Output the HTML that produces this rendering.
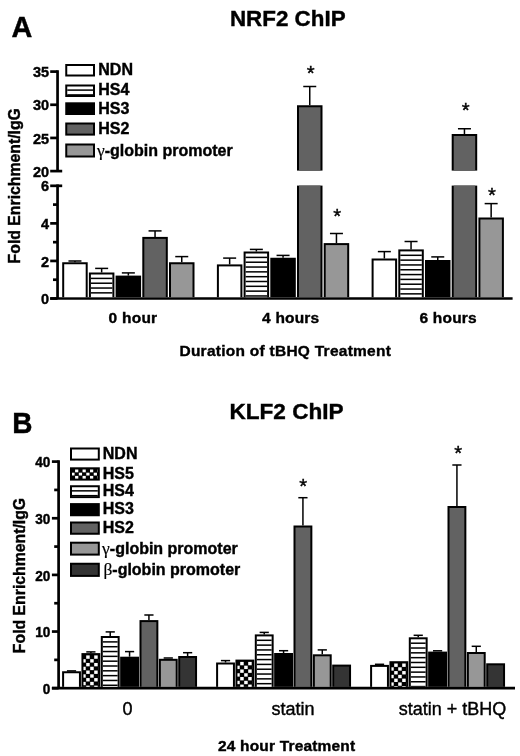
<!DOCTYPE html><html><head><meta charset="utf-8"><style>html,body{margin:0;padding:0;background:#fff;width:520px;height:756px;overflow:hidden}svg{display:block;will-change:transform}line{stroke:#000}text{font-family:"Liberation Sans", sans-serif;fill:#000;stroke:#000;stroke-width:0.4px}</style></head><body>
<svg width="520" height="756" viewBox="0 0 520 756">
<rect width="520" height="756" fill="#fff"/>
<text transform="translate(11.60,36.90) scale(1,1.03)" font-size="28.8" font-weight="bold" text-anchor="start" >A</text>
<text x="287.75" y="25.6" font-size="22.4" font-weight="bold" text-anchor="middle" >NRF2 ChIP</text>
<line x1="57.55" y1="184.47" x2="57.55" y2="298.5" stroke-width="2.7"/>
<line x1="50.2" y1="185.82" x2="62.2" y2="185.82" stroke-width="2.7"/>
<line x1="50.2" y1="298.5" x2="57.55" y2="298.5" stroke-width="2.7"/>
<line x1="50.2" y1="260.94" x2="57.55" y2="260.94" stroke-width="2.7"/>
<line x1="50.2" y1="223.38" x2="57.55" y2="223.38" stroke-width="2.7"/>
<line x1="53" y1="279.72" x2="57.55" y2="279.72" stroke-width="2.7"/>
<line x1="53" y1="242.16" x2="57.55" y2="242.16" stroke-width="2.7"/>
<line x1="53" y1="204.6" x2="57.55" y2="204.6" stroke-width="2.7"/>
<line x1="57.55" y1="70.25" x2="57.55" y2="171.1" stroke-width="2.7"/>
<line x1="50.2" y1="171.1" x2="62.2" y2="171.1" stroke-width="2.7"/>
<line x1="50.2" y1="137.94" x2="57.55" y2="137.94" stroke-width="2.7"/>
<line x1="50.2" y1="104.77" x2="57.55" y2="104.77" stroke-width="2.7"/>
<line x1="50.2" y1="71.6" x2="57.55" y2="71.6" stroke-width="2.7"/>
<line x1="50.2" y1="298.5" x2="512.6" y2="298.5" stroke-width="2.7"/>
<text transform="translate(49.10,304.10) scale(1,1.03)" font-size="14.5" font-weight="bold" text-anchor="end" >0</text>
<text transform="translate(49.10,266.54) scale(1,1.03)" font-size="14.5" font-weight="bold" text-anchor="end" >2</text>
<text transform="translate(49.10,228.98) scale(1,1.03)" font-size="14.5" font-weight="bold" text-anchor="end" >4</text>
<text transform="translate(49.10,191.42) scale(1,1.03)" font-size="14.5" font-weight="bold" text-anchor="end" >6</text>
<text transform="translate(49.10,176.70) scale(1,1.03)" font-size="14.5" font-weight="bold" text-anchor="end" >20</text>
<text transform="translate(49.10,143.53) scale(1,1.03)" font-size="14.5" font-weight="bold" text-anchor="end" >25</text>
<text transform="translate(49.10,110.37) scale(1,1.03)" font-size="14.5" font-weight="bold" text-anchor="end" >30</text>
<text transform="translate(49.10,77.20) scale(1,1.03)" font-size="14.5" font-weight="bold" text-anchor="end" >35</text>
<line x1="74.95" y1="262.25" x2="74.95" y2="261" stroke-width="1.5"/>
<line x1="68.45" y1="261" x2="81.45" y2="261" stroke-width="1.5"/>
<rect x="62.2" y="262.25" width="25.5" height="34.9"/>
<rect x="64.2" y="264.25" width="21.5" height="32.9" fill="#fff"/>
<line x1="101.65" y1="272.5" x2="101.65" y2="268.4" stroke-width="1.5"/>
<line x1="95.15" y1="268.4" x2="108.15" y2="268.4" stroke-width="1.5"/>
<rect x="88.9" y="272.5" width="25.5" height="24.65"/>
<rect x="90.9" y="274.5" width="21.5" height="22.65" fill="#fff"/>
<rect x="90.9" y="277.65" width="21.5" height="1.5"/>
<rect x="90.9" y="282.47" width="21.5" height="1.5"/>
<rect x="90.9" y="287.29" width="21.5" height="1.5"/>
<rect x="90.9" y="292.11" width="21.5" height="1.5"/>
<line x1="128.35" y1="275.6" x2="128.35" y2="272.9" stroke-width="1.5"/>
<line x1="121.85" y1="272.9" x2="134.85" y2="272.9" stroke-width="1.5"/>
<rect x="115.6" y="275.6" width="25.5" height="21.55"/>
<line x1="155.05" y1="236.9" x2="155.05" y2="230.9" stroke-width="1.5"/>
<line x1="148.55" y1="230.9" x2="161.55" y2="230.9" stroke-width="1.5"/>
<rect x="142.3" y="236.9" width="25.5" height="60.25"/>
<rect x="144.3" y="238.9" width="21.5" height="58.25" fill="#626262"/>
<line x1="181.75" y1="262.25" x2="181.75" y2="256.6" stroke-width="1.5"/>
<line x1="175.25" y1="256.6" x2="188.25" y2="256.6" stroke-width="1.5"/>
<rect x="169" y="262.25" width="25.5" height="34.9"/>
<rect x="171" y="264.25" width="21.5" height="32.9" fill="#979797"/>
<line x1="229.65" y1="264.4" x2="229.65" y2="258.1" stroke-width="1.5"/>
<line x1="223.15" y1="258.1" x2="236.15" y2="258.1" stroke-width="1.5"/>
<rect x="216.9" y="264.4" width="25.5" height="32.75"/>
<rect x="218.9" y="266.4" width="21.5" height="30.75" fill="#fff"/>
<line x1="256.35" y1="251.5" x2="256.35" y2="249.4" stroke-width="1.5"/>
<line x1="249.85" y1="249.4" x2="262.85" y2="249.4" stroke-width="1.5"/>
<rect x="243.6" y="251.5" width="25.5" height="45.65"/>
<rect x="245.6" y="253.5" width="21.5" height="43.65" fill="#fff"/>
<rect x="245.6" y="256.65" width="21.5" height="1.5"/>
<rect x="245.6" y="261.47" width="21.5" height="1.5"/>
<rect x="245.6" y="266.29" width="21.5" height="1.5"/>
<rect x="245.6" y="271.11" width="21.5" height="1.5"/>
<rect x="245.6" y="275.93" width="21.5" height="1.5"/>
<rect x="245.6" y="280.75" width="21.5" height="1.5"/>
<rect x="245.6" y="285.57" width="21.5" height="1.5"/>
<rect x="245.6" y="290.39" width="21.5" height="1.5"/>
<rect x="245.6" y="295.21" width="21.5" height="1.5"/>
<line x1="283.05" y1="257.75" x2="283.05" y2="255.4" stroke-width="1.5"/>
<line x1="276.55" y1="255.4" x2="289.55" y2="255.4" stroke-width="1.5"/>
<rect x="270.3" y="257.75" width="25.5" height="39.4"/>
<line x1="309.75" y1="105.25" x2="309.75" y2="86.5" stroke-width="1.5"/>
<line x1="303.25" y1="86.5" x2="316.25" y2="86.5" stroke-width="1.5"/>
<rect x="297" y="105.25" width="25.5" height="65.35"/>
<rect x="299" y="107.25" width="21.5" height="63.35" fill="#626262"/>
<rect x="297" y="185.6" width="25.5" height="111.55"/>
<rect x="299" y="185.6" width="21.5" height="111.55" fill="#626262"/>
<line x1="336.45" y1="243.1" x2="336.45" y2="233.5" stroke-width="1.5"/>
<line x1="329.95" y1="233.5" x2="342.95" y2="233.5" stroke-width="1.5"/>
<rect x="323.7" y="243.1" width="25.5" height="54.05"/>
<rect x="325.7" y="245.1" width="21.5" height="52.05" fill="#979797"/>
<line x1="384.35" y1="258.5" x2="384.35" y2="251.6" stroke-width="1.5"/>
<line x1="377.85" y1="251.6" x2="390.85" y2="251.6" stroke-width="1.5"/>
<rect x="371.6" y="258.5" width="25.5" height="38.65"/>
<rect x="373.6" y="260.5" width="21.5" height="36.65" fill="#fff"/>
<line x1="411.05" y1="249.4" x2="411.05" y2="241.5" stroke-width="1.5"/>
<line x1="404.55" y1="241.5" x2="417.55" y2="241.5" stroke-width="1.5"/>
<rect x="398.3" y="249.4" width="25.5" height="47.75"/>
<rect x="400.3" y="251.4" width="21.5" height="45.75" fill="#fff"/>
<rect x="400.3" y="254.55" width="21.5" height="1.5"/>
<rect x="400.3" y="259.37" width="21.5" height="1.5"/>
<rect x="400.3" y="264.19" width="21.5" height="1.5"/>
<rect x="400.3" y="269.01" width="21.5" height="1.5"/>
<rect x="400.3" y="273.83" width="21.5" height="1.5"/>
<rect x="400.3" y="278.65" width="21.5" height="1.5"/>
<rect x="400.3" y="283.47" width="21.5" height="1.5"/>
<rect x="400.3" y="288.29" width="21.5" height="1.5"/>
<rect x="400.3" y="293.11" width="21.5" height="1.5"/>
<line x1="437.75" y1="260" x2="437.75" y2="256.9" stroke-width="1.5"/>
<line x1="431.25" y1="256.9" x2="444.25" y2="256.9" stroke-width="1.5"/>
<rect x="425" y="260" width="25.5" height="37.15"/>
<line x1="464.45" y1="134" x2="464.45" y2="128.75" stroke-width="1.5"/>
<line x1="457.95" y1="128.75" x2="470.95" y2="128.75" stroke-width="1.5"/>
<rect x="451.7" y="134" width="25.5" height="36.6"/>
<rect x="453.7" y="136" width="21.5" height="34.6" fill="#626262"/>
<rect x="451.7" y="185.6" width="25.5" height="111.55"/>
<rect x="453.7" y="185.6" width="21.5" height="111.55" fill="#626262"/>
<line x1="491.15" y1="217.5" x2="491.15" y2="203.6" stroke-width="1.5"/>
<line x1="484.65" y1="203.6" x2="497.65" y2="203.6" stroke-width="1.5"/>
<rect x="478.4" y="217.5" width="25.5" height="79.65"/>
<rect x="480.4" y="219.5" width="21.5" height="77.65" fill="#979797"/>
<text transform="translate(132.95,323.20) scale(1,0.97)" font-size="15.5" font-weight="bold" text-anchor="middle" letter-spacing="0.25">0 hour</text>
<text transform="translate(290.70,323.20) scale(1,0.97)" font-size="15.5" font-weight="bold" text-anchor="middle" letter-spacing="0.18">4 hours</text>
<text transform="translate(448.20,323.20) scale(1,0.97)" font-size="15.5" font-weight="bold" text-anchor="middle" letter-spacing="0.2">6 hours</text>
<text transform="translate(285.30,356.00) scale(1,0.97)" font-size="15.5" font-weight="bold" text-anchor="middle" letter-spacing="0.27">Duration of tBHQ Treatment</text>
<text x="0" y="0" font-size="15.8" font-weight="bold" text-anchor="middle" transform="translate(20.2,185.75) rotate(-90) scale(1,1.08)">Fold Enrichment/IgG</text>
<rect x="65.25" y="64" width="29.75" height="12.5"/>
<rect x="67.25" y="66" width="25.75" height="8.5" fill="#fff"/>
<text x="98.3" y="75.0" font-size="16" font-weight="bold" text-anchor="start" >NDN</text>
<rect x="65.25" y="84.5" width="29.75" height="12.5"/>
<rect x="67.25" y="86.5" width="25.75" height="8.5" fill="#fff"/>
<rect x="67.25" y="89.35" width="25.75" height="1.5"/>
<rect x="67.25" y="94.17" width="25.75" height="0.83"/>
<text x="98.3" y="95.25" font-size="16" font-weight="bold" text-anchor="start" >HS4</text>
<rect x="65.25" y="102.3" width="29.75" height="12.7"/>
<text x="98.3" y="113.5" font-size="16" font-weight="bold" text-anchor="start" >HS3</text>
<rect x="65.25" y="122.5" width="29.75" height="13.1"/>
<rect x="67.25" y="124.5" width="25.75" height="9.1" fill="#626262"/>
<text x="98.3" y="133.5" font-size="16" font-weight="bold" text-anchor="start" >HS2</text>
<rect x="65.25" y="143.5" width="29.75" height="14"/>
<rect x="67.25" y="145.5" width="25.75" height="10" fill="#979797"/>
<text x="97" y="156.0" font-size="16" font-weight="bold"><tspan font-weight="normal" font-family="Liberation Serif" font-size="17.5" style="stroke-width:0.2px">&#947;</tspan>-globin promoter</text>
<text x="310.82" y="80.17" font-size="20.3" text-anchor="middle" stroke="#000" stroke-width="0.35">*</text>
<text x="337.18" y="223.07" font-size="20.3" text-anchor="middle" stroke="#000" stroke-width="0.35">*</text>
<text x="465.65" y="116.76" font-size="20.3" text-anchor="middle" stroke="#000" stroke-width="0.35">*</text>
<text x="491.90" y="202.20" font-size="20.3" text-anchor="middle" stroke="#000" stroke-width="0.35">*</text>
<text transform="translate(12.30,432.90) scale(1,1.04)" font-size="28.0" font-weight="bold" text-anchor="start" >B</text>
<text transform="translate(286.50,419.30) scale(1,0.96)" font-size="22.6" font-weight="bold" text-anchor="middle" >KLF2 ChIP</text>
<line x1="58.6" y1="460.25" x2="58.6" y2="688.2" stroke-width="2.7"/>
<line x1="51.9" y1="688.2" x2="58.6" y2="688.2" stroke-width="2.7"/>
<line x1="51.9" y1="631.55" x2="58.6" y2="631.55" stroke-width="2.7"/>
<line x1="51.9" y1="574.9" x2="58.6" y2="574.9" stroke-width="2.7"/>
<line x1="51.9" y1="518.25" x2="58.6" y2="518.25" stroke-width="2.7"/>
<line x1="51.9" y1="461.6" x2="58.6" y2="461.6" stroke-width="2.7"/>
<line x1="54.2" y1="659.88" x2="58.6" y2="659.88" stroke-width="2.7"/>
<line x1="54.2" y1="603.23" x2="58.6" y2="603.23" stroke-width="2.7"/>
<line x1="54.2" y1="546.58" x2="58.6" y2="546.58" stroke-width="2.7"/>
<line x1="54.2" y1="489.93" x2="58.6" y2="489.93" stroke-width="2.7"/>
<line x1="51.9" y1="688.2" x2="515" y2="688.2" stroke-width="2.7"/>
<text transform="translate(50.30,693.90) scale(1,1.1)" font-size="13.6" font-weight="bold" text-anchor="end" >0</text>
<text transform="translate(50.30,637.25) scale(1,1.1)" font-size="13.6" font-weight="bold" text-anchor="end" >10</text>
<text transform="translate(50.30,580.60) scale(1,1.1)" font-size="13.6" font-weight="bold" text-anchor="end" >20</text>
<text transform="translate(50.30,523.95) scale(1,1.1)" font-size="13.6" font-weight="bold" text-anchor="end" >30</text>
<text transform="translate(50.30,467.30) scale(1,1.1)" font-size="13.6" font-weight="bold" text-anchor="end" >40</text>
<line x1="66.93" y1="670.9" x2="76.12" y2="670.9" stroke-width="1.5"/>
<rect x="62.1" y="671.25" width="18.85" height="15.6"/>
<rect x="64.1" y="673.25" width="14.85" height="13.6" fill="#fff"/>
<line x1="90.88" y1="653.1" x2="90.88" y2="651.9" stroke-width="1.5"/>
<line x1="86.28" y1="651.9" x2="95.47" y2="651.9" stroke-width="1.5"/>
<rect x="81.45" y="653.1" width="18.85" height="33.75"/>
<rect x="86.2" y="655.4" width="3.5" height="3.38" fill="#fff"/>
<rect x="94.2" y="655.4" width="3.5" height="3.38" fill="#fff"/>
<rect x="83.45" y="659.18" width="2.25" height="3.38" fill="#fff"/>
<rect x="90.2" y="659.18" width="3.5" height="3.38" fill="#fff"/>
<rect x="98.2" y="659.18" width="0.1" height="3.38" fill="#fff"/>
<rect x="86.2" y="662.96" width="3.5" height="3.38" fill="#fff"/>
<rect x="94.2" y="662.96" width="3.5" height="3.38" fill="#fff"/>
<rect x="83.45" y="666.74" width="2.25" height="3.38" fill="#fff"/>
<rect x="90.2" y="666.74" width="3.5" height="3.38" fill="#fff"/>
<rect x="98.2" y="666.74" width="0.1" height="3.38" fill="#fff"/>
<rect x="86.2" y="670.52" width="3.5" height="3.38" fill="#fff"/>
<rect x="94.2" y="670.52" width="3.5" height="3.38" fill="#fff"/>
<rect x="83.45" y="674.3" width="2.25" height="3.38" fill="#fff"/>
<rect x="90.2" y="674.3" width="3.5" height="3.38" fill="#fff"/>
<rect x="98.2" y="674.3" width="0.1" height="3.38" fill="#fff"/>
<rect x="86.2" y="678.08" width="3.5" height="3.38" fill="#fff"/>
<rect x="94.2" y="678.08" width="3.5" height="3.38" fill="#fff"/>
<rect x="83.45" y="681.86" width="2.25" height="3.38" fill="#fff"/>
<rect x="90.2" y="681.86" width="3.5" height="3.38" fill="#fff"/>
<rect x="98.2" y="681.86" width="0.1" height="3.38" fill="#fff"/>
<rect x="86.2" y="685.64" width="3.5" height="1.21" fill="#fff"/>
<rect x="94.2" y="685.64" width="3.5" height="1.21" fill="#fff"/>
<line x1="110.23" y1="636" x2="110.23" y2="631.9" stroke-width="1.5"/>
<line x1="105.63" y1="631.9" x2="114.83" y2="631.9" stroke-width="1.5"/>
<rect x="100.8" y="636" width="18.85" height="50.85"/>
<rect x="102.8" y="638" width="14.85" height="48.85" fill="#fff"/>
<rect x="102.8" y="641.15" width="14.85" height="1.5"/>
<rect x="102.8" y="645.97" width="14.85" height="1.5"/>
<rect x="102.8" y="650.79" width="14.85" height="1.5"/>
<rect x="102.8" y="655.61" width="14.85" height="1.5"/>
<rect x="102.8" y="660.43" width="14.85" height="1.5"/>
<rect x="102.8" y="665.25" width="14.85" height="1.5"/>
<rect x="102.8" y="670.07" width="14.85" height="1.5"/>
<rect x="102.8" y="674.89" width="14.85" height="1.5"/>
<rect x="102.8" y="679.71" width="14.85" height="1.5"/>
<rect x="102.8" y="684.53" width="14.85" height="1.5"/>
<line x1="129.57" y1="656.7" x2="129.57" y2="651.6" stroke-width="1.5"/>
<line x1="124.97" y1="651.6" x2="134.17" y2="651.6" stroke-width="1.5"/>
<rect x="120.15" y="656.7" width="18.85" height="30.15"/>
<line x1="148.93" y1="620.1" x2="148.93" y2="615" stroke-width="1.5"/>
<line x1="144.33" y1="615" x2="153.53" y2="615" stroke-width="1.5"/>
<rect x="139.5" y="620.1" width="18.85" height="66.75"/>
<rect x="141.5" y="622.1" width="14.85" height="64.75" fill="#626262"/>
<line x1="163.67" y1="658" x2="172.87" y2="658" stroke-width="1.5"/>
<rect x="158.85" y="658.8" width="18.85" height="28.05"/>
<rect x="160.85" y="660.8" width="14.85" height="26.05" fill="#979797"/>
<line x1="187.62" y1="656" x2="187.62" y2="652.7" stroke-width="1.5"/>
<line x1="183.03" y1="652.7" x2="192.22" y2="652.7" stroke-width="1.5"/>
<rect x="178.2" y="656" width="18.85" height="30.85"/>
<rect x="180.2" y="658" width="14.85" height="28.85" fill="#343434"/>
<line x1="225.52" y1="662.5" x2="225.52" y2="660.6" stroke-width="1.5"/>
<line x1="220.92" y1="660.6" x2="230.12" y2="660.6" stroke-width="1.5"/>
<rect x="216.1" y="662.5" width="18.85" height="24.35"/>
<rect x="218.1" y="664.5" width="14.85" height="22.35" fill="#fff"/>
<rect x="235.45" y="659.6" width="18.85" height="27.25"/>
<rect x="240.2" y="661.9" width="3.5" height="3.38" fill="#fff"/>
<rect x="248.2" y="661.9" width="3.5" height="3.38" fill="#fff"/>
<rect x="237.45" y="665.68" width="2.25" height="3.38" fill="#fff"/>
<rect x="244.2" y="665.68" width="3.5" height="3.38" fill="#fff"/>
<rect x="252.2" y="665.68" width="0.1" height="3.38" fill="#fff"/>
<rect x="240.2" y="669.46" width="3.5" height="3.38" fill="#fff"/>
<rect x="248.2" y="669.46" width="3.5" height="3.38" fill="#fff"/>
<rect x="237.45" y="673.24" width="2.25" height="3.38" fill="#fff"/>
<rect x="244.2" y="673.24" width="3.5" height="3.38" fill="#fff"/>
<rect x="252.2" y="673.24" width="0.1" height="3.38" fill="#fff"/>
<rect x="240.2" y="677.02" width="3.5" height="3.38" fill="#fff"/>
<rect x="248.2" y="677.02" width="3.5" height="3.38" fill="#fff"/>
<rect x="237.45" y="680.8" width="2.25" height="3.38" fill="#fff"/>
<rect x="244.2" y="680.8" width="3.5" height="3.38" fill="#fff"/>
<rect x="252.2" y="680.8" width="0.1" height="3.38" fill="#fff"/>
<rect x="240.2" y="684.58" width="3.5" height="2.27" fill="#fff"/>
<rect x="248.2" y="684.58" width="3.5" height="2.27" fill="#fff"/>
<line x1="264.23" y1="634.4" x2="264.23" y2="632.4" stroke-width="1.5"/>
<line x1="259.62" y1="632.4" x2="268.83" y2="632.4" stroke-width="1.5"/>
<rect x="254.8" y="634.4" width="18.85" height="52.45"/>
<rect x="256.8" y="636.4" width="14.85" height="50.45" fill="#fff"/>
<rect x="256.8" y="639.55" width="14.85" height="1.5"/>
<rect x="256.8" y="644.37" width="14.85" height="1.5"/>
<rect x="256.8" y="649.19" width="14.85" height="1.5"/>
<rect x="256.8" y="654.01" width="14.85" height="1.5"/>
<rect x="256.8" y="658.83" width="14.85" height="1.5"/>
<rect x="256.8" y="663.65" width="14.85" height="1.5"/>
<rect x="256.8" y="668.47" width="14.85" height="1.5"/>
<rect x="256.8" y="673.29" width="14.85" height="1.5"/>
<rect x="256.8" y="678.11" width="14.85" height="1.5"/>
<rect x="256.8" y="682.93" width="14.85" height="1.5"/>
<line x1="283.57" y1="653" x2="283.57" y2="650.7" stroke-width="1.5"/>
<line x1="278.97" y1="650.7" x2="288.18" y2="650.7" stroke-width="1.5"/>
<rect x="274.15" y="653" width="18.85" height="33.85"/>
<line x1="302.93" y1="525.5" x2="302.93" y2="497.7" stroke-width="1.5"/>
<line x1="298.32" y1="497.7" x2="307.53" y2="497.7" stroke-width="1.5"/>
<rect x="293.5" y="525.5" width="18.85" height="161.35"/>
<rect x="295.5" y="527.5" width="14.85" height="159.35" fill="#626262"/>
<line x1="322.28" y1="654.3" x2="322.28" y2="649.9" stroke-width="1.5"/>
<line x1="317.68" y1="649.9" x2="326.88" y2="649.9" stroke-width="1.5"/>
<rect x="312.85" y="654.3" width="18.85" height="32.55"/>
<rect x="314.85" y="656.3" width="14.85" height="30.55" fill="#979797"/>
<rect x="332.2" y="664.6" width="18.85" height="22.25"/>
<rect x="334.2" y="666.6" width="14.85" height="20.25" fill="#343434"/>
<line x1="374.93" y1="664.3" x2="384.13" y2="664.3" stroke-width="1.5"/>
<rect x="370.1" y="664.9" width="18.85" height="21.95"/>
<rect x="372.1" y="666.9" width="14.85" height="19.95" fill="#fff"/>
<rect x="389.45" y="661.2" width="18.85" height="25.65"/>
<rect x="394.2" y="663.5" width="3.5" height="3.38" fill="#fff"/>
<rect x="402.2" y="663.5" width="3.5" height="3.38" fill="#fff"/>
<rect x="391.45" y="667.28" width="2.25" height="3.38" fill="#fff"/>
<rect x="398.2" y="667.28" width="3.5" height="3.38" fill="#fff"/>
<rect x="406.2" y="667.28" width="0.1" height="3.38" fill="#fff"/>
<rect x="394.2" y="671.06" width="3.5" height="3.38" fill="#fff"/>
<rect x="402.2" y="671.06" width="3.5" height="3.38" fill="#fff"/>
<rect x="391.45" y="674.84" width="2.25" height="3.38" fill="#fff"/>
<rect x="398.2" y="674.84" width="3.5" height="3.38" fill="#fff"/>
<rect x="406.2" y="674.84" width="0.1" height="3.38" fill="#fff"/>
<rect x="394.2" y="678.62" width="3.5" height="3.38" fill="#fff"/>
<rect x="402.2" y="678.62" width="3.5" height="3.38" fill="#fff"/>
<rect x="391.45" y="682.4" width="2.25" height="3.38" fill="#fff"/>
<rect x="398.2" y="682.4" width="3.5" height="3.38" fill="#fff"/>
<rect x="406.2" y="682.4" width="0.1" height="3.38" fill="#fff"/>
<rect x="394.2" y="686.18" width="3.5" height="0.67" fill="#fff"/>
<rect x="402.2" y="686.18" width="3.5" height="0.67" fill="#fff"/>
<line x1="418.23" y1="637.3" x2="418.23" y2="635.3" stroke-width="1.5"/>
<line x1="413.62" y1="635.3" x2="422.83" y2="635.3" stroke-width="1.5"/>
<rect x="408.8" y="637.3" width="18.85" height="49.55"/>
<rect x="410.8" y="639.3" width="14.85" height="47.55" fill="#fff"/>
<rect x="410.8" y="642.45" width="14.85" height="1.5"/>
<rect x="410.8" y="647.27" width="14.85" height="1.5"/>
<rect x="410.8" y="652.09" width="14.85" height="1.5"/>
<rect x="410.8" y="656.91" width="14.85" height="1.5"/>
<rect x="410.8" y="661.73" width="14.85" height="1.5"/>
<rect x="410.8" y="666.55" width="14.85" height="1.5"/>
<rect x="410.8" y="671.37" width="14.85" height="1.5"/>
<rect x="410.8" y="676.19" width="14.85" height="1.5"/>
<rect x="410.8" y="681.01" width="14.85" height="1.5"/>
<rect x="410.8" y="685.83" width="14.85" height="1.02"/>
<line x1="432.98" y1="650.8" x2="442.18" y2="650.8" stroke-width="1.5"/>
<rect x="428.15" y="651.6" width="18.85" height="35.25"/>
<line x1="456.93" y1="506" x2="456.93" y2="465" stroke-width="1.5"/>
<line x1="452.32" y1="465" x2="461.53" y2="465" stroke-width="1.5"/>
<rect x="447.5" y="506" width="18.85" height="180.85"/>
<rect x="449.5" y="508" width="14.85" height="178.85" fill="#626262"/>
<line x1="476.28" y1="652" x2="476.28" y2="646.3" stroke-width="1.5"/>
<line x1="471.68" y1="646.3" x2="480.88" y2="646.3" stroke-width="1.5"/>
<rect x="466.85" y="652" width="18.85" height="34.85"/>
<rect x="468.85" y="654" width="14.85" height="32.85" fill="#979797"/>
<rect x="486.2" y="663.3" width="18.85" height="23.55"/>
<rect x="488.2" y="665.3" width="14.85" height="21.55" fill="#343434"/>
<text x="127.5" y="715.3" font-size="18" font-weight="normal" text-anchor="middle" >0</text>
<text x="292.95" y="715.0" font-size="18" font-weight="normal" text-anchor="middle" >statin</text>
<text x="452.5" y="715.0" font-size="18" font-weight="normal" text-anchor="middle" >statin + tBHQ</text>
<text transform="translate(286.65,750.60) scale(1,0.97)" font-size="15.5" font-weight="bold" text-anchor="middle" letter-spacing="0.18">24 hour Treatment</text>
<text x="0" y="0" font-size="15.8" font-weight="bold" text-anchor="middle" transform="translate(25.0,575.5) rotate(-90) scale(1,1.08)">Fold Enrichment/IgG</text>
<rect x="70" y="447.5" width="29.8" height="13.1"/>
<rect x="72" y="449.5" width="25.8" height="9.1" fill="#fff"/>
<text x="102.8" y="458.70000000000005" font-size="16" font-weight="bold" text-anchor="start" >NDN</text>
<rect x="70" y="467.3" width="29.8" height="13.3"/>
<rect x="75.08" y="469.5" width="3.23" height="2.8" fill="#fff"/>
<rect x="82.54" y="469.5" width="3.23" height="2.8" fill="#fff"/>
<rect x="90" y="469.5" width="3.23" height="2.8" fill="#fff"/>
<rect x="97.46" y="469.5" width="0.34" height="2.8" fill="#fff"/>
<rect x="72" y="472.7" width="2.58" height="2.8" fill="#fff"/>
<rect x="78.81" y="472.7" width="3.23" height="2.8" fill="#fff"/>
<rect x="86.27" y="472.7" width="3.23" height="2.8" fill="#fff"/>
<rect x="93.73" y="472.7" width="3.23" height="2.8" fill="#fff"/>
<rect x="75.08" y="475.9" width="3.23" height="2.7" fill="#fff"/>
<rect x="82.54" y="475.9" width="3.23" height="2.7" fill="#fff"/>
<rect x="90" y="475.9" width="3.23" height="2.7" fill="#fff"/>
<rect x="97.46" y="475.9" width="0.34" height="2.7" fill="#fff"/>
<text x="102.8" y="478.70000000000005" font-size="16" font-weight="bold" text-anchor="start" >HS5</text>
<rect x="70" y="485.25" width="29.8" height="12.85"/>
<rect x="72" y="487.25" width="25.8" height="8.85" fill="#fff"/>
<rect x="72" y="490.1" width="25.8" height="1.5"/>
<rect x="72" y="494.92" width="25.8" height="1.18"/>
<text x="102.8" y="496.20000000000005" font-size="16" font-weight="bold" text-anchor="start" >HS4</text>
<rect x="70" y="503.1" width="29.8" height="13.15"/>
<text x="102.8" y="514.35" font-size="16" font-weight="bold" text-anchor="start" >HS3</text>
<rect x="70" y="521.5" width="29.8" height="13.25"/>
<rect x="72" y="523.5" width="25.8" height="9.25" fill="#626262"/>
<text x="102.8" y="532.85" font-size="16" font-weight="bold" text-anchor="start" >HS2</text>
<rect x="70" y="541.7" width="29.8" height="13.9"/>
<rect x="72" y="543.7" width="25.8" height="9.9" fill="#979797"/>
<text x="102.1" y="553.70" font-size="16" font-weight="bold"><tspan font-weight="normal" font-family="Liberation Serif" font-size="17.5" style="stroke-width:0.2px">&#947;</tspan>-globin promoter</text>
<rect x="70" y="562.75" width="29.8" height="14.15"/>
<rect x="72" y="564.75" width="25.8" height="10.15" fill="#343434"/>
<text x="103.4" y="575.00" font-size="16" font-weight="bold"><tspan font-weight="normal" font-family="Liberation Serif" font-size="17.5" style="stroke-width:0.2px">&#946;</tspan>-globin promoter</text>
<text x="303.30" y="493.07" font-size="20.3" text-anchor="middle" stroke="#000" stroke-width="0.35">*</text>
<text x="458.20" y="459.93" font-size="20.3" text-anchor="middle" stroke="#000" stroke-width="0.35">*</text>
</svg></body></html>
